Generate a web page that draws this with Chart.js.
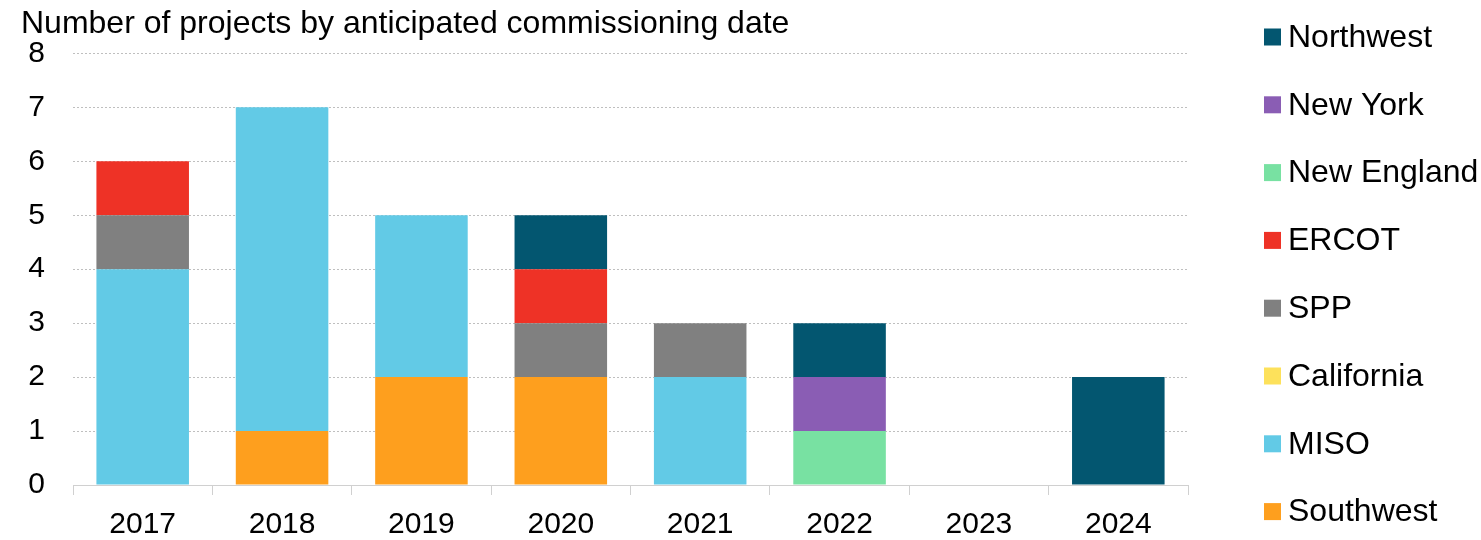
<!DOCTYPE html>
<html>
<head>
<meta charset="utf-8">
<script src="https://cdn.jsdelivr.net/npm/chart.js@4"></script>
<style>
  body { margin: 0; background: #fff; }
  #wrap { width: 1481px; height: 540px; position: relative; }
</style>
</head>
<body>
<div id="wrap"><canvas id="projChart"></canvas></div>
<script>
// Projects by anticipated commissioning year, split by region
const years = ['2017', '2018', '2019', '2020', '2021', '2022', '2023', '2024'];

const southwest  = [0, 1, 2, 2, 0, 0, 0, 0];
const miso       = [4, 6, 3, 0, 2, 0, 0, 0];
const california = [0, 0, 0, 0, 0, 0, 0, 0];
const spp        = [1, 0, 0, 1, 1, 0, 0, 0];
const ercot      = [1, 0, 0, 1, 0, 0, 0, 0];
const newEngland = [0, 0, 0, 0, 0, 1, 0, 0];
const newYork    = [0, 0, 0, 0, 0, 1, 0, 0];
const northwest  = [0, 0, 0, 1, 0, 1, 0, 2];

const yTicks = [0, 1, 2, 3, 4, 5, 6, 7, 8];

const FONT = 'Arial, "Liberation Sans", sans-serif';

// Legend drawn down the right side, top entry = top of the stack
const sideLegend = {
  id: 'sideLegend',
  afterDraw(chart) {
    const ctx = chart.ctx;
    const sets = chart.data.datasets.slice().reverse();
    ctx.save();
    ctx.font = '32px ' + FONT;
    ctx.textAlign = 'left';
    ctx.textBaseline = 'middle';
    sets.forEach((ds, i) => {
      const cy = 37 + i * 67.8;
      ctx.fillStyle = ds.backgroundColor;
      ctx.fillRect(1264, cy - 8.5, 17, 17);
      ctx.fillStyle = '#000';
      ctx.fillText(ds.label, 1288, cy + 1);
    });
    ctx.restore();
  }
};

new Chart(document.getElementById('projChart'), {
  type: 'bar',
  data: {
    labels: years,
    datasets: [
      { label: 'Southwest',   data: southwest,  backgroundColor: '#FE9F1E' },
      { label: 'MISO',        data: miso,       backgroundColor: '#62CAE6' },
      { label: 'California',  data: california, backgroundColor: '#FDE15B' },
      { label: 'SPP',         data: spp,        backgroundColor: '#808080' },
      { label: 'ERCOT',       data: ercot,      backgroundColor: '#EE3226' },
      { label: 'New England', data: newEngland, backgroundColor: '#78E1A2' },
      { label: 'New York',    data: newYork,    backgroundColor: '#8A5DB4' },
      { label: 'Northwest',   data: northwest,  backgroundColor: '#035670' }
    ]
  },
  options: {
    responsive: true,
    maintainAspectRatio: false,
    animation: false,
    datasets: {
      bar: { barPercentage: 0.664, categoryPercentage: 1, borderWidth: 0 }
    },
    layout: { padding: { left: 21, right: 293, top: 0, bottom: 0 } },
    plugins: {
      legend: { display: false },
      tooltip: { enabled: false },
      title: {
        display: true,
        text: 'Number of projects by anticipated commissioning date',
        align: 'start',
        color: '#000',
        font: { family: FONT, size: 32, weight: 'normal' },
        padding: { top: 5, bottom: 10 }
      }
    },
    scales: {
      x: {
        stacked: true,
        offset: true,
        grid: {
          offset: true,
          drawOnChartArea: false,
          drawTicks: true,
          tickLength: 10,
          color: '#D0D0D0'
        },
        border: { display: true, color: '#D0D0D0', width: 1 },
        ticks: { color: '#000', font: { family: FONT, size: 30 }, padding: 12 },
        afterFit(scale) { scale.height = 55; }
      },
      y: {
        stacked: true,
        min: 0,
        max: 8,
        afterBuildTicks(scale) { scale.ticks = yTicks.map(v => ({ value: v })); },
        grid: {
          color: '#BFBFBF',
          lineWidth: 1,
          drawTicks: false
        },
        border: { display: false, dash: [2, 2] },
        ticks: { color: '#000', font: { family: FONT, size: 30 }, padding: 28 },
        afterFit(scale) { scale.width = 52; }
      }
    }
  },
  plugins: [sideLegend]
});
</script>
</body>
</html>
